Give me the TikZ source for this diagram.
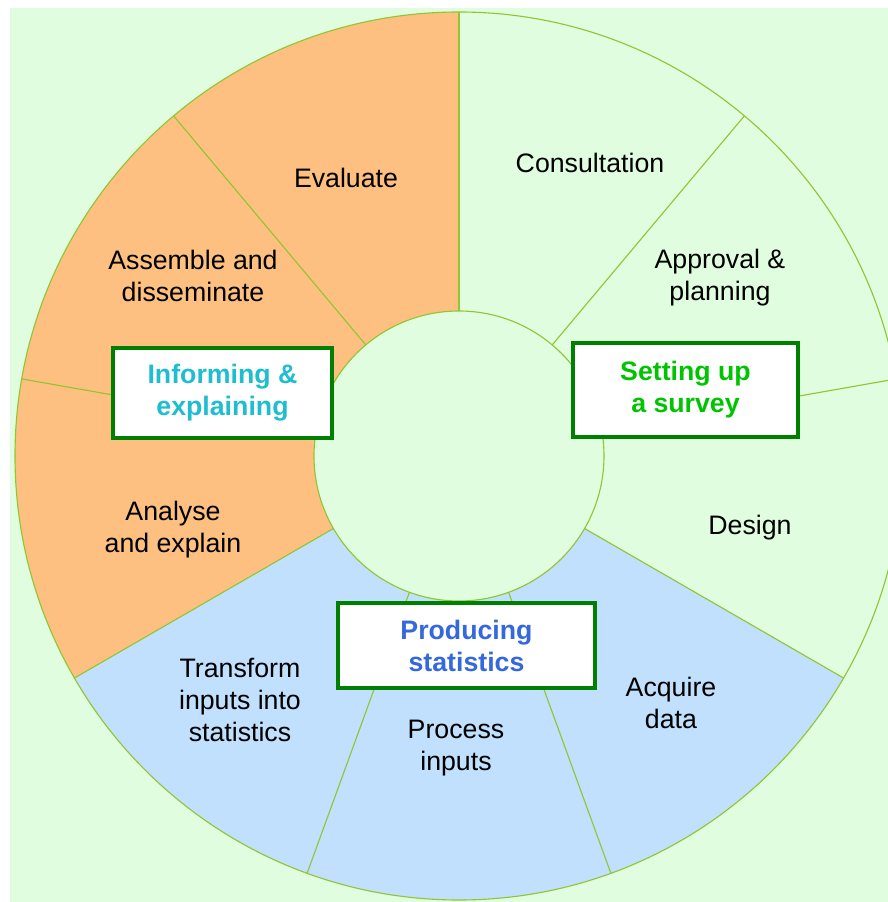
\documentclass[tikz,border=0pt]{standalone}
\usepackage{fontspec}
\setmainfont{Liberation Sans}
\usepackage{tikz}

\definecolor{paleground}{RGB}{224,253,224}
\definecolor{phaseorange}{RGB}{253,192,128}
\definecolor{phaseblue}{RGB}{192,224,253}
\definecolor{rimline}{RGB}{145,198,50}
\definecolor{boxline}{RGB}{0,128,0}
\definecolor{setupgreen}{RGB}{0,196,0}
\definecolor{informcyan}{RGB}{30,190,208}
\definecolor{producblue}{RGB}{52,104,220}

\begin{document}
\begin{tikzpicture}[x=0.025cm, y=0.025cm,
        step label/.style={black, align=center, font=\fontsize{19}{22.7}\selectfont},
        phase box/.style={rectangle, draw=boxline, line width=2.2pt, fill=white, align=center,
                          font=\fontsize{19}{22.7}\selectfont\bfseries},
        rim/.style={rimline, line width=0.8pt}]
        \useasboundingbox (-459, -446) rectangle (429, 456);
        \fill[paleground] (-449, -446) rectangle (429, 448);
        \clip (-449, -446) rectangle (429, 448);

        % ring sectors, 40 degrees each
        \fill[phaseorange] (90:145) arc[start angle=90, end angle=130, radius=145] -- (130:444) arc[start angle=130, end angle=90, radius=444] -- cycle;
        \fill[phaseorange] (130:145) arc[start angle=130, end angle=170, radius=145] -- (170:444) arc[start angle=170, end angle=130, radius=444] -- cycle;
        \fill[phaseorange] (170:145) arc[start angle=170, end angle=210, radius=145] -- (210:444) arc[start angle=210, end angle=170, radius=444] -- cycle;
        \fill[phaseblue] (210:145) arc[start angle=210, end angle=250, radius=145] -- (250:444) arc[start angle=250, end angle=210, radius=444] -- cycle;
        \fill[phaseblue] (250:145) arc[start angle=250, end angle=290, radius=145] -- (290:444) arc[start angle=290, end angle=250, radius=444] -- cycle;
        \fill[phaseblue] (290:145) arc[start angle=290, end angle=330, radius=145] -- (330:444) arc[start angle=330, end angle=290, radius=444] -- cycle;

        \draw[rim] (0, 0) circle[radius=444];
        \draw[rim] (0, 0) circle[radius=145];
        \draw[rim] (90:145) -- (90:444);
        \draw[rim] (50:145) -- (50:444);
        \draw[rim] (10:145) -- (10:444);
        \draw[rim] (-30:145) -- (-30:444);
        \draw[rim] (-70:145) -- (-70:444);
        \draw[rim] (-110:145) -- (-110:444);
        \draw[rim] (210:145) -- (210:444);
        \draw[rim] (170:145) -- (170:444);
        \draw[rim] (130:145) -- (130:444);

        % steps
        \draw (131, 293) node(consult)[step label]{Consultation};
        \draw (261, 178) node(approve)[step label]{Approval \&\\planning};
        \draw (291, -72) node(design)[step label]{Design};
        \draw (212, -247) node(acquire)[step label]{Acquire\\data};
        \draw (-3, -292) node(process)[step label]{Process\\inputs};
        \draw (-219, -244) node(transform)[step label]{Transform\\inputs into\\statistics};
        \draw (-286, -74) node(analyse)[step label]{Analyse\\and explain};
        \draw (-266, 180) node(assemble)[step label]{Assemble and\\disseminate};
        \draw (-113, 278) node(evaluate)[step label]{Evaluate};

        % phases
        \draw (226.5, 66) node(setup)[phase box, text=setupgreen, minimum width=5.625cm, minimum height=2.35cm]{Setting up\\a survey};
        \draw (-236.5, 63) node(inform)[phase box, text=informcyan, minimum width=5.475cm, minimum height=2.25cm]{Informing \&\\explaining};
        \draw (7.5, -189.5) node(produce)[phase box, text=producblue, minimum width=6.425cm, minimum height=2.125cm]{Producing\\statistics};
\end{tikzpicture}
\end{document}
